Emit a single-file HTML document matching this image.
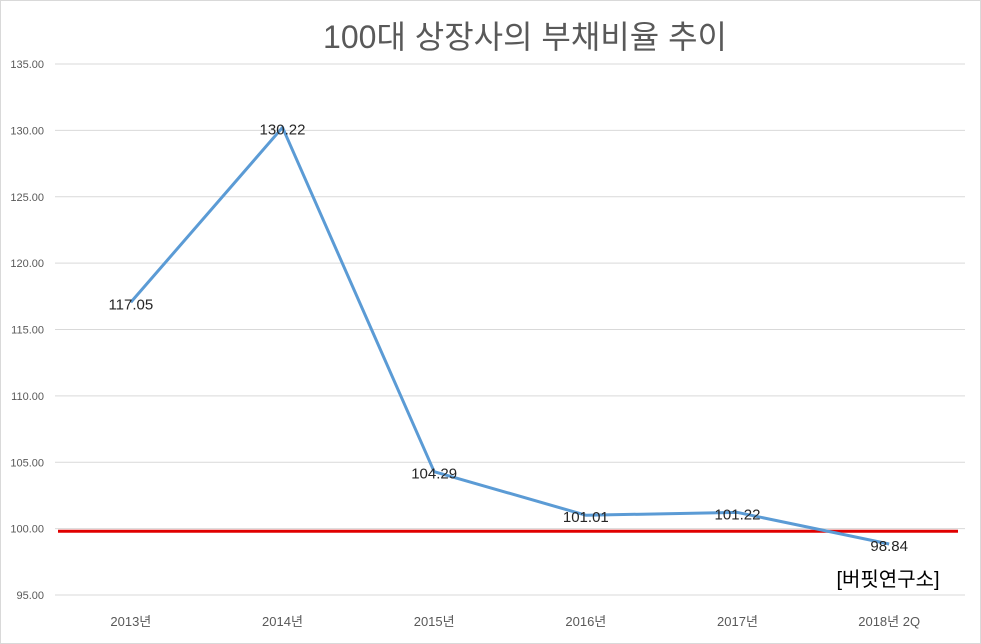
<!DOCTYPE html>
<html><head><meta charset="utf-8"><style>
body{margin:0;background:#fff;}
svg{display:block;font-family:"Liberation Sans","Noto Sans CJK KR",sans-serif;}
</style></head><body>
<svg id="chart" width="981" height="644">
<rect x="0.5" y="0.5" width="980" height="643" fill="#fff" stroke="#d9d9d9"/>
<text x="525" y="48" font-size="32" fill="#595959" text-anchor="middle">100대 상장사의 부채비율 추이</text>
<g id="grid"></g><g id="xlabels"></g><g id="series"></g>
<text x="888" y="586" font-size="20" fill="#000" text-anchor="middle">[버핏연구소]</text>
</svg>
<script>
const categories=["2013년","2014년","2015년","2016년","2017년","2018년 2Q"];
const values=[117.05,130.22,104.29,101.01,101.22,98.84];
const labels=["117.05","130.22","104.29","101.01","101.22","98.84"];
const yTicks=[95,100,105,110,115,120,125,130,135];
const yTickLabels=["95.00","100.00","105.00","110.00","115.00","120.00","125.00","130.00","135.00"];
const referenceValue=[99.8];
const NS="http://www.w3.org/2000/svg";
const X0=55,X1=965,Y0=595,Y1=64,YMIN=95,YMAX=135;
const xs=i=>X0+(X1-X0)/categories.length*(i+0.5);
const ys=v=>Y0-(v-YMIN)/(YMAX-YMIN)*(Y0-Y1);
function mk(t,a,p){const e=document.createElementNS(NS,t);for(const k in a)e.setAttribute(k,a[k]);p.appendChild(e);return e;}
const grid=document.getElementById('grid');
yTicks.forEach((v,i)=>{
 const l=mk('line',{x1:X0,x2:X1,y1:ys(v),y2:ys(v),stroke:'#d9d9d9','stroke-width':1},grid);
 
 
 const t=mk('text',{x:44,y:ys(v)+4,'font-size':11,fill:'#595959','text-anchor':'end'},grid);
 t.textContent=yTickLabels[i];
 
 
});
const xl=document.getElementById('xlabels');
categories.forEach((c,i)=>{
 const t=mk('text',{x:xs(i),y:626,'font-size':13,fill:'#595959','text-anchor':'middle'},xl);
 t.textContent=c;
 
 
});
const s=document.getElementById('series');
const ry=ys(referenceValue[0]);
const ref=mk('line',{x1:58,x2:958,y1:ry,y2:ry,stroke:'#e00000','stroke-width':3},s);


const pl=mk('polyline',{points:values.map((v,i)=>xs(i)+','+ys(v)).join(' '),fill:'none',stroke:'#5b9bd5','stroke-width':3,'stroke-linejoin':'round'},s);


values.forEach((v,i)=>{
 const t=mk('text',{x:xs(i),y:ys(v)+7,'font-size':15,fill:'#262626','text-anchor':'middle'},s);
 t.textContent=labels[i];
 
 
});
</script>
</body></html>
